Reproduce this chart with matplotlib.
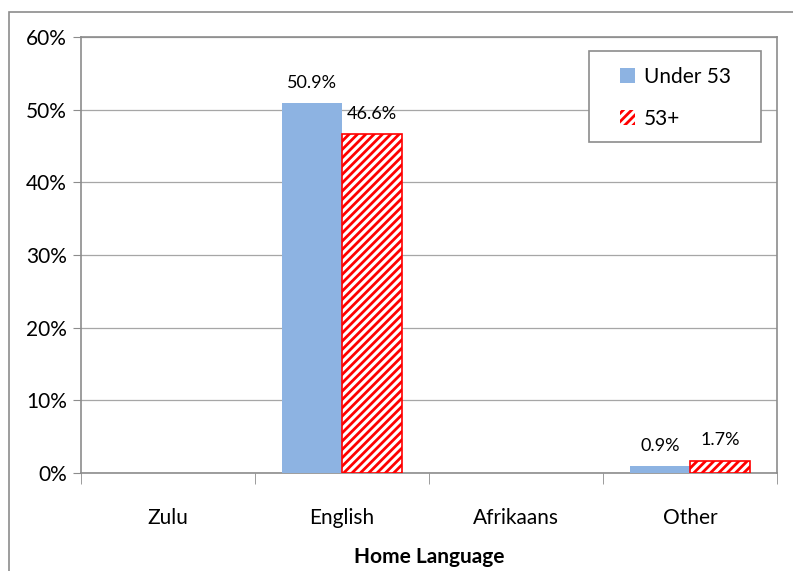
import matplotlib.pyplot as plt
import matplotlib.patches as mpatches
import numpy as np

# home language split by age group (percent of respondents)
languages = ['Zulu', 'English', 'Afrikaans', 'Other']
under_53 = [0.0, 50.9, 0.0, 0.9]
over_53 = [0.0, 46.6, 0.0, 1.7]
series_names = ['Under 53', '53+']
y_ticks = [0, 10, 20, 30, 40, 50, 60]

plt.rcParams['font.family'] = ['Lato', 'DejaVu Sans']
plt.rcParams['hatch.linewidth'] = 2.0

W, H = 793, 571
fig = plt.figure(figsize=(W / 100, H / 100), dpi=100)
ax = fig.add_axes([81 / W, 1 - 473 / H, (777 - 81) / W, (473 - 37) / H])

# outer chart frame
fig.patches.append(mpatches.Rectangle((9 / W, -0.1), 1.2, 1 - 12 / H + 0.1,
                                      transform=fig.transFigure, fill=False,
                                      edgecolor='#8c8c8c', linewidth=1.2))

x = np.arange(len(languages))
w = 0.345
b1 = ax.bar(x - w / 2, under_53, w, color='#8DB3E2', label=series_names[0], zorder=3)
b2 = ax.bar(x + w / 2, over_53, w, facecolor='white', edgecolor='#FF0000',
            hatch='////', linewidth=1.2, label=series_names[1], zorder=3)

for bars, vals in ((b1, under_53), (b2, over_53)):
    for bar, v in zip(bars, vals):
        if v > 0:
            ax.annotate(f'{v:.1f}%', (bar.get_x() + bar.get_width() / 2, v),
                        xytext=(0, 9), textcoords='offset points',
                        ha='center', va='bottom', fontsize=13)
        else:
            bar.set_linewidth(0)

ax.set_xlim(-0.5, len(languages) - 0.5)
ax.set_ylim(0, 60)
ax.set_yticks(y_ticks)
ax.set_yticklabels([f'{t}%' for t in y_ticks], fontsize=15)
ax.yaxis.grid(True, color='#a6a6a6', linewidth=0.9, zorder=0)
ax.set_axisbelow(True)

ax.set_xticks(x)
ax.set_xticklabels(languages, fontsize=15)
ax.tick_params(axis='x', length=0, pad=25)
ax.set_xticks(np.arange(-0.5, len(languages)), minor=True)
ax.tick_params(axis='x', which='minor', length=8, color='#8c8c8c', direction='out')
ax.tick_params(axis='y', length=6, color='#8c8c8c', direction='out', pad=4)

for s in ax.spines.values():
    s.set_color('#8c8c8c')
    s.set_linewidth(1.2)

ax.set_xlabel('Home Language', fontsize=15, fontweight='bold', labelpad=14)

# legend box drawn separately so it can be wider than its entries
ax.add_patch(mpatches.Rectangle((589 / W, 1 - 142 / H), (761 - 589) / W, (142 - 51) / H,
                                transform=fig.transFigure, facecolor='white',
                                edgecolor='#8c8c8c', linewidth=1.2, zorder=5,
                                clip_on=False))
leg = ax.legend(loc='upper left', bbox_to_anchor=(620 / W, 1 - 67 / H),
                bbox_transform=fig.transFigure, fontsize=15, frameon=False,
                handlelength=0.7, handleheight=0.7, labelspacing=1.05,
                borderpad=0, handletextpad=0.45, borderaxespad=0)
leg.set_zorder(6)

fig.savefig('out.png', dpi=100)
